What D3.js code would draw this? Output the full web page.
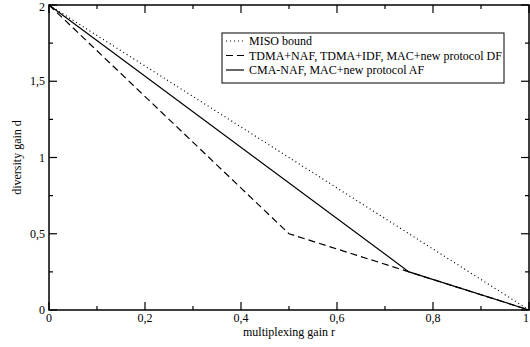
<!DOCTYPE html>
<html>
<head>
<meta charset="utf-8">
<script src="https://cdn.jsdelivr.net/npm/d3@7"></script>
<style>
body { margin: 0; background: #fff; }
text { font-family: "Liberation Serif", "Times New Roman", serif; }
</style>
</head>
<body>
<svg width="530" height="347"></svg>
<script>
// data
var misoR = [0, 1];
var misoD = [2, 0];
var dfR = [0, 0.5, 0.75, 1];
var dfD = [2, 0.5, 0.25, 0];
var afR = [0, 0.75, 1];
var afD = [2, 0.25, 0];
var xTicks = [0, 0.2, 0.4, 0.6, 0.8, 1];
var yTicks = [0, 0.5, 1, 1.5, 2];
var legendNames = ['MISO bound', 'TDMA+NAF, TDMA+IDF, MAC+new protocol DF', 'CMA-NAF, MAC+new protocol AF'];

var svg = d3.select('svg');
// plot box (window.top is taken, so use other names)
var pLeft = 49, pRight = 529, pTop = 5, pBottom = 310;

var x = d3.scaleLinear().domain([0, 1]).range([pLeft, pRight]);
var y = d3.scaleLinear().domain([0, 2]).range([pBottom, pTop]);

var fmt = function(d) { return String(d).replace('.', ','); };

var series = [
	{ r: misoR, d: misoD, dash: '1,3' },
	{ r: dfR, d: dfD, dash: '7,4' },
	{ r: afR, d: afD, dash: null }
];

var line = d3.line()
	.x(function(p) { return x(p[0]); })
	.y(function(p) { return y(p[1]); });

series.forEach(function(s) {
	var pts = s.r.map(function(v, i) { return [v, s.d[i]]; });
	svg.append('path')
		.attr('d', line(pts))
		.attr('fill', 'none')
		.attr('stroke', '#000')
		.attr('stroke-width', 1.2)
		.attr('stroke-dasharray', s.dash);
});

// inward ticks on all four sides
function tickAxes() {
	var minorX = d3.range(0, 1.0001, 0.1);
	var minorY = d3.range(0, 2.0001, 0.25);
	var g = svg.append('g').attr('stroke', '#000').attr('stroke-width', 1.2);
	minorX.forEach(function(v, i) {
		var len = (i % 2 === 0) ? 8 : 4;
		g.append('line').attr('x1', x(v)).attr('x2', x(v)).attr('y1', pBottom).attr('y2', pBottom - len);
		g.append('line').attr('x1', x(v)).attr('x2', x(v)).attr('y1', pTop).attr('y2', pTop + len);
	});
	minorY.forEach(function(v, i) {
		var len = (i % 2 === 0) ? 8 : 4;
		g.append('line').attr('y1', y(v)).attr('y2', y(v)).attr('x1', pLeft).attr('x2', pLeft + len);
		g.append('line').attr('y1', y(v)).attr('y2', y(v)).attr('x1', pRight).attr('x2', pRight - len);
	});
}
tickAxes();

svg.append('rect')
	.attr('x', pLeft).attr('y', pTop)
	.attr('width', pRight - pLeft).attr('height', pBottom - pTop)
	.attr('fill', 'none').attr('stroke', '#000').attr('stroke-width', 1.5);

svg.selectAll('.xt').data(xTicks).enter().append('text')
	.attr('x', function(d) { return x(d); })
	.attr('y', pBottom + 12)
	.attr('text-anchor', function(d) { return d === 1 ? 'end' : 'middle'; })
	.attr('font-size', 12)
	.text(fmt);

svg.selectAll('.yt').data(yTicks).enter().append('text')
	.attr('x', pLeft - 4)
	.attr('y', function(d) { return Math.max(y(d) + 4, 11); })
	.attr('text-anchor', 'end')
	.attr('font-size', 12)
	.text(fmt);

svg.append('text')
	.attr('x', (pLeft + pRight) / 2)
	.attr('y', 336)
	.attr('text-anchor', 'middle')
	.attr('font-size', 12)
	.text('multiplexing gain r');

svg.append('text')
	.attr('transform', 'translate(21,' + ((pTop + pBottom) / 2) + ') rotate(-90)')
	.attr('text-anchor', 'middle')
	.attr('font-size', 12)
	.text('diversity gain d');

// legend
var lg = svg.append('g');
lg.append('rect')
	.attr('x', 222).attr('y', 33).attr('width', 282).attr('height', 50)
	.attr('fill', '#fff').attr('stroke', '#000').attr('stroke-width', 1);
legendNames.forEach(function(name, i) {
	var yy = 41 + i * 14.5;
	lg.append('line')
		.attr('x1', 226).attr('x2', 244).attr('y1', yy).attr('y2', yy)
		.attr('stroke', '#000').attr('stroke-width', 1.2)
		.attr('stroke-dasharray', series[i].dash);
	lg.append('text')
		.attr('x', 249).attr('y', yy + 4)
		.attr('font-size', 12)
		.text(name);
});
</script>
</body>
</html>
